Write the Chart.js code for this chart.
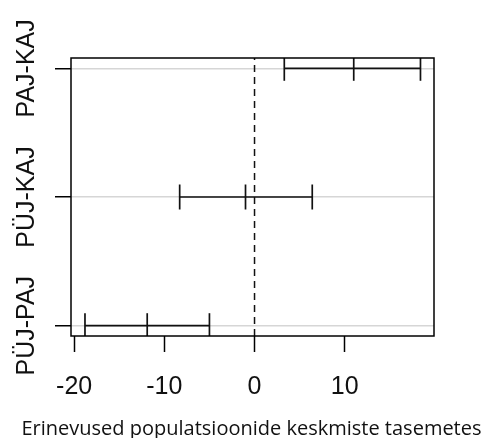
<!DOCTYPE html>
<html>
<head>
<meta charset="utf-8">
<script src="https://cdn.jsdelivr.net/npm/chart.js@4"></script>
<style>
  html, body { margin: 0; padding: 0; background: #fff; }
  #wrap { width: 483px; height: 438px; }
</style>
</head>
<body>
<div id="wrap"><canvas id="chart"></canvas></div>
<script>
// comparisons (bottom to top) and their intervals
let comparisons = ['PÜJ-PAJ', 'PÜJ-KAJ', 'PAJ-KAJ']
let diffs = [-11.9, -1.0, 11.0]
let lowerBounds = [-18.8, -8.3, 3.3]
let upperBounds = [-5.0, 6.4, 18.4]
let xTicks = [-20, -10, 0, 10]
let xTitle = 'Erinevused populatsioonide keskmiste tasemetes'

let yMin = 0.92, yMax = 3.08

// one line dataset per comparison: lower, estimate, upper
let datasets = comparisons.map((name, i) => ({
    label: name,
    data: [
        { x: lowerBounds[i], y: i + 1 },
        { x: diffs[i], y: i + 1 },
        { x: upperBounds[i], y: i + 1 }
    ],
    showLine: true,
    borderColor: '#111',
    borderWidth: 1.7,
    pointStyle: 'line',
    rotation: 90,
    pointRadius: 12.5,
    pointBorderWidth: 1.7,
    pointBorderColor: '#111'
}))

// dashed zero line
datasets.push({
    label: 'zero',
    data: [{ x: 0, y: yMin }, { x: 0, y: yMax }],
    showLine: true,
    borderColor: '#111',
    borderWidth: 1.5,
    borderDash: [7, 5],
    pointRadius: 0
})

// box around the plot, rotated comparison labels and the x title
// (the scale title gets squeezed to the plot width, so it is drawn here)
const boxAndLabels = {
    id: 'boxAndLabels',
    afterDraw(chart) {
        const { ctx, chartArea, scales } = chart
        ctx.save()
        ctx.strokeStyle = '#000'
        ctx.lineWidth = 1.5
        ctx.strokeRect(chartArea.left, chartArea.top, chartArea.right - chartArea.left, chartArea.bottom - chartArea.top)

        ctx.fillStyle = '#111'
        ctx.font = '25px "Liberation Sans", Arial, sans-serif'
        ctx.textAlign = 'center'
        ctx.textBaseline = 'alphabetic'
        comparisons.forEach((name, i) => {
            const y = scales.y.getPixelForValue(i + 1)
            ctx.save()
            ctx.translate(34, y)
            ctx.rotate(-Math.PI / 2)
            ctx.fillText(name, 0, 0)
            ctx.restore()
        })

        ctx.font = '20px "Open Sans", "Noto Sans", sans-serif'
        ctx.fillText(xTitle, (chartArea.left + chartArea.right) / 2 - 1, 435)
        ctx.restore()
    }
}

const ctx = document.getElementById('chart')
new Chart(ctx, {
    type: 'scatter',
    data: { datasets },
    options: {
        responsive: true,
        maintainAspectRatio: false,
        animation: false,
        events: [],
        layout: { padding: { left: 0, right: 49, top: 58, bottom: 0 } },
        plugins: {
            legend: { display: false },
            tooltip: { enabled: false }
        },
        scales: {
            x: {
                type: 'linear',
                min: -20.35,
                max: 19.9,
                afterBuildTicks: (scale) => { scale.ticks = xTicks.map(v => ({ value: v })) },
                afterFit: (scale) => { scale.height = 102 },
                border: { display: false },
                grid: {
                    drawOnChartArea: false,
                    drawTicks: true,
                    tickLength: 16,
                    tickColor: '#000',
                    tickWidth: 1.5
                },
                ticks: {
                    color: '#111',
                    padding: 20,
                    maxRotation: 0,
                    font: { family: '"Liberation Sans", Arial, sans-serif', size: 25 }
                }
            },
            y: {
                type: 'linear',
                min: yMin,
                max: yMax,
                afterBuildTicks: (scale) => { scale.ticks = comparisons.map((c, i) => ({ value: i + 1 })) },
                afterFit: (scale) => { scale.width = 71 },
                border: { display: false },
                grid: {
                    color: '#d6d6d6',
                    lineWidth: 1.5,
                    drawTicks: true,
                    tickLength: 16,
                    tickColor: '#000',
                    tickWidth: 1.5
                },
                ticks: { display: false }
            }
        }
    },
    plugins: [boxAndLabels]
})
</script>
</body>
</html>
